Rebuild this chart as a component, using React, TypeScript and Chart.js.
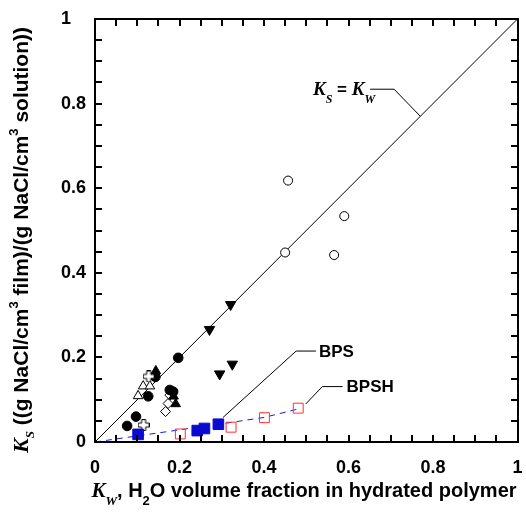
import React, { useEffect, useRef } from "react";
import { Chart, registerables } from "chart.js";
Chart.register(...registerables);

// ---- data ----
const filledCircleX = [0.076, 0.097, 0.126, 0.143, 0.197, 0.177, 0.185];
const filledCircleY = [0.038, 0.06, 0.108, 0.154, 0.199, 0.123, 0.119];
const openCircleX = [0.457, 0.59, 0.45, 0.566];
const openCircleY = [0.618, 0.534, 0.448, 0.442];
const downTriX = [0.321, 0.271, 0.295, 0.325];
const downTriY = [0.325, 0.266, 0.161, 0.184];
const filledTriX = [0.144, 0.191, 0.186];
const filledTriY = [0.168, 0.09, 0.108];
const openTriX = [0.102, 0.114, 0.13];
const openTriY = [0.109, 0.132, 0.132];
const crossX = [0.127, 0.115];
const crossY = [0.155, 0.04];
const diamondX = [0.167, 0.173, 0.177];
const diamondY = [0.072, 0.091, 0.111];
const bpsX = [0.102, 0.242, 0.259, 0.292];
const bpsY = [0.018, 0.027, 0.032, 0.042];
const bpshX = [0.202, 0.322, 0.401, 0.481];
const bpshY = [0.019, 0.035, 0.0575, 0.08];
const bpshLineX = [0, 0.3, 0.4, 0.481];
const bpshLineY = [0, 0.043, 0.058, 0.078];
const diagX = [0, 1];
const diagY = [0, 1];
// annotation leaders (data coordinates)
const kLeaderX = [0.77, 0.708, 0.651];
const kLeaderY = [0.77, 0.834, 0.834];
const bpsLeaderX = [0.303, 0.476, 0.523];
const bpsLeaderY = [0.058, 0.215, 0.215];
const bpshLeaderX = [0.499, 0.538, 0.586];
const bpshLeaderY = [0.09, 0.131, 0.131];
const xTicks = [0, 0.2, 0.4, 0.6, 0.8, 1];
const yTicks = [0, 0.2, 0.4, 0.6, 0.8, 1];
const minorTicks = [0.05, 0.1, 0.15, 0.2, 0.25, 0.3, 0.35, 0.4, 0.45, 0.5, 0.55, 0.6, 0.65, 0.7, 0.75, 0.8, 0.85, 0.9, 0.95];

const SERIF = '"Liberation Serif", "Times New Roman", serif';
const SANS = '"Liberation Sans", Arial, sans-serif';

const pts = (xs: number[], ys: number[]) => xs.map((x, i) => ({ x, y: ys[i] }));

type Seg = { t: string; f: string; dy: number };
function drawSegs(ctx: CanvasRenderingContext2D, segs: Seg[], x: number, y: number, align: "left" | "center" | "right") {
  let w = 0;
  for (const s of segs) {
    ctx.font = s.f;
    w += ctx.measureText(s.t).width;
  }
  let cx = align === "left" ? x : align === "center" ? x - w / 2 : x - w;
  ctx.textAlign = "left";
  ctx.textBaseline = "alphabetic";
  for (const s of segs) {
    ctx.font = s.f;
    ctx.fillText(s.t, cx, y + s.dy);
    cx += ctx.measureText(s.t).width;
  }
}

function makeCross(): HTMLCanvasElement {
  const c = document.createElement("canvas");
  c.width = 12;
  c.height = 12;
  const g = c.getContext("2d")!;
  const a = 4.0, b = 8.0, lo = 0.5, hi = 11.5;
  g.beginPath();
  g.moveTo(a, lo); g.lineTo(b, lo); g.lineTo(b, a); g.lineTo(hi, a); g.lineTo(hi, b); g.lineTo(b, b);
  g.lineTo(b, hi); g.lineTo(a, hi); g.lineTo(a, b); g.lineTo(lo, b); g.lineTo(lo, a); g.lineTo(a, a);
  g.closePath();
  g.fillStyle = "#fff";
  g.fill();
  g.strokeStyle = "#000";
  g.lineWidth = 1;
  g.stroke();
  return c;
}

const framePlugin = {
  id: "frame",
  afterDraw(chart: any) {
    const ctx: CanvasRenderingContext2D = chart.ctx;
    const xs = chart.scales.x;
    const ys = chart.scales.y;
    const L = Math.round(xs.getPixelForValue(0));
    const R = Math.round(xs.getPixelForValue(1));
    const B = Math.round(ys.getPixelForValue(0));
    const T = Math.round(ys.getPixelForValue(1));
    ctx.save();
    ctx.fillStyle = "#000";
    ctx.fillRect(L - 1, T - 1, R - L + 2, 2);
    ctx.fillRect(L - 1, B - 1, R - L + 2, 2);
    ctx.fillRect(L - 1, T - 1, 2, B - T + 2);
    ctx.fillRect(R - 1, T - 1, 2, B - T + 2);
    const tl = 7;
    for (let k = 0; k < minorTicks.length; k++) {
      const v = minorTicks[k];
      const px = Math.round(xs.getPixelForValue(v));
      const py = Math.round(ys.getPixelForValue(v));
      ctx.fillRect(px - 1, B - tl, 2, tl);
      ctx.fillRect(px - 1, T, 2, tl);
      ctx.fillRect(L, py - 1, tl, 2);
      ctx.fillRect(R - tl, py - 1, tl, 2);
    }
    // annotation labels
    const kx = xs.getPixelForValue(kLeaderX[2]);
    const ky = ys.getPixelForValue(kLeaderY[2]);
    drawSegs(ctx, [
      { t: "K", f: `italic bold 19px ${SERIF}`, dy: 0 },
      { t: "S", f: `italic bold 12px ${SERIF}`, dy: 8 },
      { t: " = ", f: `bold 17px ${SANS}`, dy: 0 },
      { t: "K", f: `italic bold 19px ${SERIF}`, dy: 0 },
      { t: "W", f: `italic bold 12px ${SERIF}`, dy: 8 },
    ], kx + 5, ky + 6, "right");

    ctx.font = `bold 17px ${SANS}`;
    ctx.textBaseline = "middle";
    ctx.textAlign = "left";
    ctx.fillText("BPS", xs.getPixelForValue(bpsLeaderX[2]) + 3, ys.getPixelForValue(bpsLeaderY[2]) + 1);
    ctx.fillText("BPSH", xs.getPixelForValue(bpshLeaderX[2]) + 4, ys.getPixelForValue(bpshLeaderY[2]) + 1);

    // x axis title
    drawSegs(ctx, [
      { t: "K", f: `italic bold 21px ${SERIF}`, dy: 0 },
      { t: "W", f: `italic bold 13px ${SERIF}`, dy: 8 },
      { t: ", H", f: `bold 20px ${SANS}`, dy: 0 },
      { t: "2", f: `bold 13px ${SANS}`, dy: 8 },
      { t: "O volume fraction in hydrated polymer", f: `bold 20px ${SANS}`, dy: 0 },
    ], 304, 497, "center");

    // y axis title
    ctx.translate(28, 240);
    ctx.rotate(-Math.PI / 2);
    drawSegs(ctx, [
      { t: "K", f: `italic bold 22px ${SERIF}`, dy: 0 },
      { t: "S", f: `italic bold 13px ${SERIF}`, dy: 6 },
      { t: " ((g NaCl/cm", f: `bold 21px ${SANS}`, dy: 0 },
      { t: "3", f: `bold 13px ${SANS}`, dy: -10 },
      { t: " film)/(g NaCl/cm", f: `bold 21px ${SANS}`, dy: 0 },
      { t: "3", f: `bold 13px ${SANS}`, dy: -10 },
      { t: " solution))", f: `bold 21px ${SANS}`, dy: 0 },
    ], 0, 0, "center");
    ctx.restore();
  },
};

export default function App() {
  const ref = useRef<HTMLCanvasElement | null>(null);
  useEffect(() => {
    document.body.style.margin = "0";
    const cross = makeCross();
    const line = (xs: number[], ys: number[], extra: any = {}) => ({
      type: "line",
      data: pts(xs, ys),
      showLine: true,
      borderColor: "#000",
      borderWidth: 1,
      pointRadius: 0,
      fill: false,
      order: 10,
      ...extra,
    });
    const chart = new Chart(ref.current!, {
      type: "scatter",
      data: {
        datasets: [
          line(diagX, diagY),
          line(kLeaderX, kLeaderY),
          line(bpsLeaderX, bpsLeaderY),
          line(bpshLeaderX, bpshLeaderY),
          line(bpshLineX, bpshLineY, { borderColor: "#1a1ae0", borderDash: [6, 5] }),
          { data: pts(openCircleX, openCircleY), pointStyle: "circle", pointRadius: 4.5, backgroundColor: "#fff", borderColor: "#000", borderWidth: 1, order: 5 },
          { data: pts(downTriX, downTriY), pointStyle: "triangle", rotation: 180, pointRadius: 6, backgroundColor: "#000", borderColor: "#000", borderWidth: 1, order: 5 },
          { data: pts(diamondX, diamondY), pointStyle: "rectRot", pointRadius: 5, backgroundColor: "#fff", borderColor: "#000", borderWidth: 1, order: 4 },
          { data: pts(openTriX, openTriY), pointStyle: "triangle", pointRadius: 5.5, backgroundColor: "#fff", borderColor: "#000", borderWidth: 1, order: 4 },
          { data: pts(filledCircleX, filledCircleY), pointStyle: "circle", pointRadius: 4.8, backgroundColor: "#000", borderColor: "#000", borderWidth: 1, order: 3 },
          { data: pts(filledTriX, filledTriY), pointStyle: "triangle", pointRadius: 5.5, backgroundColor: "#000", borderColor: "#000", borderWidth: 1, order: 3 },
          { data: pts(crossX, crossY), pointStyle: cross, pointRadius: 6, order: 2 },
          { data: pts(bpshX, bpshY), pointStyle: "rect", pointRadius: 7, backgroundColor: "rgba(255,255,255,0)", borderColor: "#ff3030", borderWidth: 1, order: 2 },
          { data: pts(bpsX, bpsY), pointStyle: "rect", pointRadius: 7.5, backgroundColor: "#0a0ad0", borderColor: "#0a0ad0", borderWidth: 1, order: 1 },
        ] as any,
      },
      options: {
        animation: false,
        responsive: false,
        devicePixelRatio: 1,
        layout: { padding: { left: 0, right: 7, top: 19, bottom: 0 } },
        plugins: { legend: { display: false }, tooltip: { enabled: false } },
        scales: {
          x: {
            type: "linear",
            min: 0,
            max: 1,
            afterFit: (s: any) => { s.height = 74; s.paddingLeft = 0; s.paddingRight = 0; },
            afterBuildTicks: (s: any) => { s.ticks = xTicks.map((v) => ({ value: v })); },
            grid: { display: false, drawTicks: false },
            border: { display: false },
            ticks: {
              color: "#000",
              padding: 15,
              font: { family: SANS, size: 18, weight: "bold" },
              callback: (v: any) => String(v),
            },
          },
          y: {
            type: "linear",
            min: 0,
            max: 1,
            afterFit: (s: any) => { s.width = 95; s.paddingTop = 0; s.paddingBottom = 0; },
            afterBuildTicks: (s: any) => { s.ticks = yTicks.map((v) => ({ value: v })); },
            grid: { display: false, drawTicks: false },
            border: { display: false },
            ticks: {
              color: "#000",
              padding: 9,
              font: { family: SANS, size: 18, weight: "bold" },
              callback: (v: any) => (v === 1 ? "1   " : String(v)),
            },
          },
        },
      } as any,
      plugins: [framePlugin],
    });
    return () => chart.destroy();
  }, []);
  return (
    <div style={{ position: "fixed", left: 0, top: 0, width: 526, height: 516, background: "#fff" }}>
      <canvas ref={ref} width={526} height={516} />
    </div>
  );
}
